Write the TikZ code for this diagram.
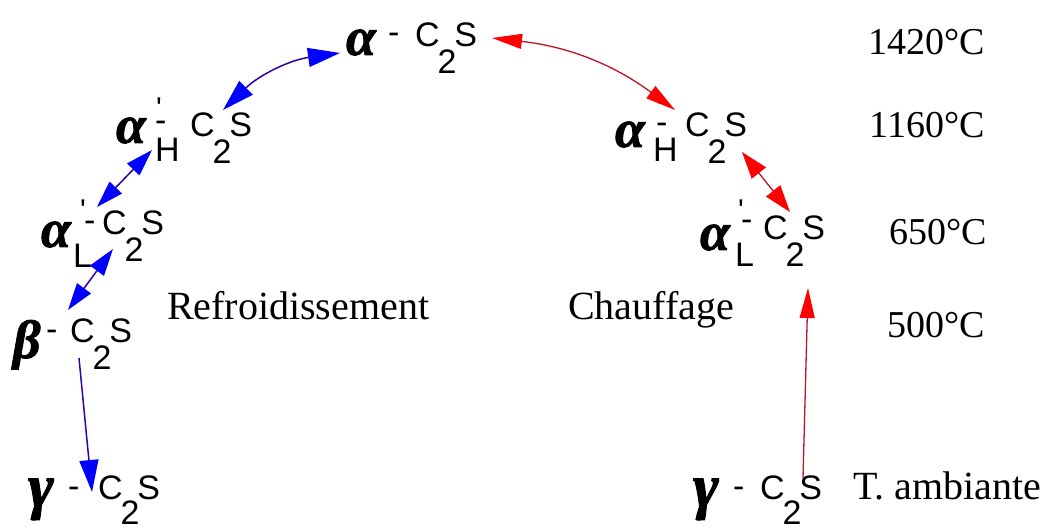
\documentclass[tikz,border=0pt]{standalone}
\usepackage{fontspec}
\setmainfont{Liberation Serif}
\newfontfamily\arialf{Liberation Sans}
\newfontfamily\grkf[BoldItalicFeatures={FakeBold=1.5}]{Liberation Serif}
\usetikzlibrary{arrows.meta}
\definecolor{bhead}{RGB}{0,0,255}
\definecolor{bline}{RGB}{50,0,170}
\definecolor{rhead}{RGB}{255,0,0}
\definecolor{rline}{RGB}{190,20,40}
\newcommand\CtwoS{C\kern-2pt\raisebox{-27pt}{2}\kern-2pt S}
\newcommand\CtwoSb{C\kern-2pt\raisebox{-25pt}{2}\kern-2pt S}
\newcommand\PrDash[2]{\rlap{\kern#1\raisebox{#2}{\fontsize{30}{30}\selectfont\char"27}}-}
\begin{document}
\begin{tikzpicture}[x=1pt,y=-1pt,
  txt/.style={inner sep=0pt, outer sep=0pt, anchor=base west},
  gk/.style={txt, font=\grkf\bfseries\itshape\fontsize{54}{54}\selectfont},
  gkg/.style={txt, font=\grkf\bfseries\itshape\fontsize{62}{62}\selectfont},
  sf/.style={txt, font=\arialf\fontsize{34}{34}\selectfont},
  tm/.style={txt, font=\fontsize{40}{40}\selectfont},
  temp/.style={txt, anchor=base east, font=\fontsize{38}{38}\selectfont},
  bd/.style={draw=bline, line width=1.5pt, >={Triangle[length=32pt,width=19pt,color=bhead]}},
  bd2/.style={draw=bline, line width=1.5pt, >={Triangle[length=27pt,width=17pt,color=bhead]}},
  rd/.style={draw=rline, line width=1.3pt, >={Triangle[length=30pt,width=15pt,color=rhead]}},
  rd2/.style={draw=rline, line width=1.3pt, >={Triangle[length=27pt,width=18pt,color=rhead]}}
]
\useasboundingbox[fill=white] (0,0) rectangle (1045,529);

% top alpha C2S
\node[gk] (tA) at (346,55) {α};
\node[sf] (tD) at (388,44) {-};
\node[sf] (tC) at (415,47) {\CtwoS};

% left alpha'H
\node[gk] (lhA) at (116,143) {α};
\node[sf] (lhD) at (155,132) {\PrDash{1pt}{13pt}};
\node[sf] (lhH) at (155,162) {H};
\node[sf] (lhC) at (190,137) {\CtwoS};

% left alpha'L
\node[gk] (llA) at (41,247) {α};
\node[sf] (llD) at (84,232) {\PrDash{-4pt}{11pt}};
\node[sf] (llL) at (73,268) {L};
\node[sf] (llC) at (102,235) {\CtwoS};

% beta
\node[gk] (bA) at (13,358) {β};
\node[sf] (bD) at (46,341) {-};
\node[sf] (bC) at (70,343) {\CtwoS};

% left gamma
\node[gkg] (lgA) at (28,507) {γ};
\node[sf] (lgD) at (68,497) {-};
\node[sf] (lgC) at (98,499) {\CtwoSb};

% right alpha'H
\node[gk] (rhA) at (615,147) {α};
\node[sf] (rhD) at (656,134) {\PrDash{1pt}{15pt}};
\node[sf] (rhH) at (653,162) {H};
\node[sf] (rhC) at (685,137) {\CtwoS};

% right alpha'L
\node[gk] (rlA) at (700,250) {α};
\node[sf] (rlD) at (741,231) {\PrDash{-3pt}{10pt}};
\node[sf] (rlL) at (735,267) {L};
\node[sf] (rlC) at (763,240) {\CtwoS};

% right gamma
\node[gkg] (rgA) at (693,507) {γ};
\node[sf] (rgD) at (733,497) {-};
\node[sf] (rgC) at (760,499) {\CtwoSb};
\node[tm] (amb) at (853,499) {T. ambiante};

% temperatures
\node[temp] (t1) at (985,55) {1420°C};
\node[temp] (t2) at (985,138) {1160°C};
\node[temp] (t3) at (987,245) {650°C};
\node[temp] (t4) at (985,338) {500°C};

% labels
\node[tm] (refr) at (167,320) {Refroidissement};
\node[tm] (chau) at (568,320) {Chauffage};

% blue arrows (cooling)
\draw[bd,<->] ([shift={(-6,-2)}]tA.base west) to[bend right=18] ([shift={(33,-27)}]lhC.base west);
\draw[bd2,<->] ([shift={(36,7)}]lhA.base west) -- ([shift={(56,-40)}]llA.base west);
\draw[bd2,<->] ([shift={(11,14)}]llC.base west) -- ([shift={(-2,-33)}]bC.base west);
\draw[bd,->] ([shift={(9,15)}]bC.base west) -- ([shift={(-6,-7)}]lgC.base west);

% red arrows (heating)
\draw[rd,<->] ([shift={(77,-9)}]tC.base west) to[bend left=15] ([shift={(-10,-27)}]rhC.base west);
\draw[rd2,<->] ([shift={(57,15)}]rhC.base west) -- ([shift={(27,-28)}]rlC.base west);
\draw[rd,->] ([shift={(43,-21)}]rgC.base west) -- ([shift={(45,48)}]rlC.base west);
\end{tikzpicture}
\end{document}
